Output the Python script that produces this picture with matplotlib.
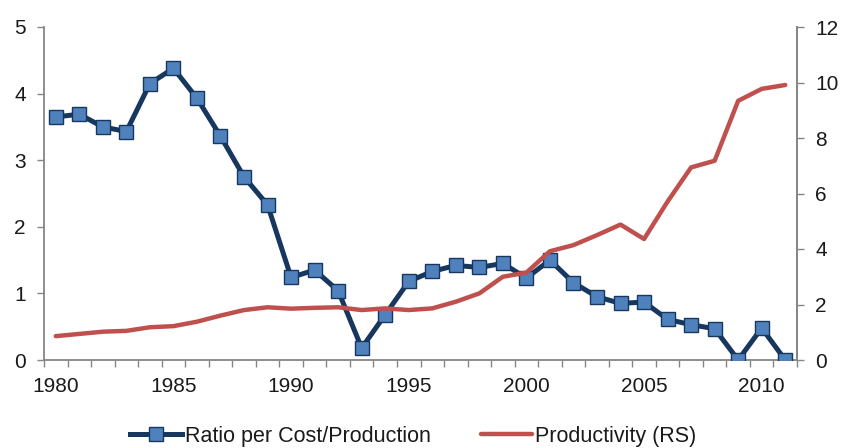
import numpy as np
import matplotlib.pyplot as plt
from matplotlib.ticker import FixedLocator

plt.rcParams['font.family'] = ['Liberation Sans', 'DejaVu Sans']

# data
years = list(range(1980, 2012))
ratio = [3.65, 3.69, 3.50, 3.43, 4.15, 4.38, 3.93, 3.36, 2.75, 2.33,
         1.24, 1.35, 1.04, 0.18, 0.68, 1.18, 1.33, 1.42, 1.39, 1.45,
         1.23, 1.50, 1.16, 0.95, 0.85, 0.87, 0.61, 0.53, 0.47, 0.0,
         0.48, 0.0]
productivity = [0.86, 0.94, 1.02, 1.05, 1.18, 1.22, 1.38, 1.60, 1.80, 1.90,
                1.85, 1.88, 1.90, 1.80, 1.86, 1.80, 1.86, 2.10, 2.40, 3.00,
                3.15, 3.92, 4.14, 4.50, 4.88, 4.36, 5.71, 6.94, 7.18, 9.34,
                9.77, 9.91]
left_ticks = [0, 1, 2, 3, 4, 5]
right_ticks = [0, 2, 4, 6, 8, 10, 12]
label_years = [1980, 1985, 1990, 1995, 2000, 2005, 2010]

blue_line = '#17375E'
blue_face = '#4F81BD'
red = '#C0504D'
grey = '#868686'
txt = '#1a1a1a'

fig = plt.figure(figsize=(8.42, 4.48), dpi=100)
ax = fig.add_axes([44 / 842, 1 - 360 / 448, (797 - 44) / 842, 333 / 448])
ax2 = ax.twinx()

l1, = ax.plot(years, ratio, color=blue_line, lw=3.6, marker='s', ms=10.5,
              mfc=blue_face, mec=blue_line, mew=1.0, zorder=3,
              label='Ratio per Cost/Production')
l2, = ax2.plot(years, productivity, color=red, lw=3.2,
               solid_capstyle='round', label='Productivity (RS)')

ax.set_xlim(1979.5, 2011.5)
ax.set_ylim(0, 5)
ax2.set_ylim(0, 12)
ax.set_yticks(left_ticks)
ax2.set_yticks(right_ticks)
ax.set_xticks(label_years)
ax.xaxis.set_minor_locator(FixedLocator(np.arange(1979.5, 2012, 1)))
ax.tick_params(axis='x', which='major', length=0, pad=12)
ax.tick_params(axis='x', which='minor', length=5, width=1, color=grey, direction='out')

for a in (ax, ax2):
    a.spines['top'].set_visible(False)
    for s in ('left', 'right', 'bottom'):
        a.spines[s].set_color(grey)
        a.spines[s].set_linewidth(1.3)
    a.tick_params(axis='y', length=5, width=1, color=grey, direction='out',
                  labelsize=15, labelcolor=txt, pad=8)
ax.tick_params(axis='x', labelsize=15, labelcolor=txt)
ax2.spines['left'].set_visible(False)
ax2.spines['bottom'].set_visible(False)

fig.legend(handles=[l1, l2], loc='center', bbox_to_anchor=(413.5 / 842, 1 - 436 / 448),
           ncol=2, frameon=False, fontsize=15.5, handlelength=2.4,
           handletextpad=0.15, columnspacing=2.3, labelcolor=txt)

fig.savefig('out.png', dpi=100)
